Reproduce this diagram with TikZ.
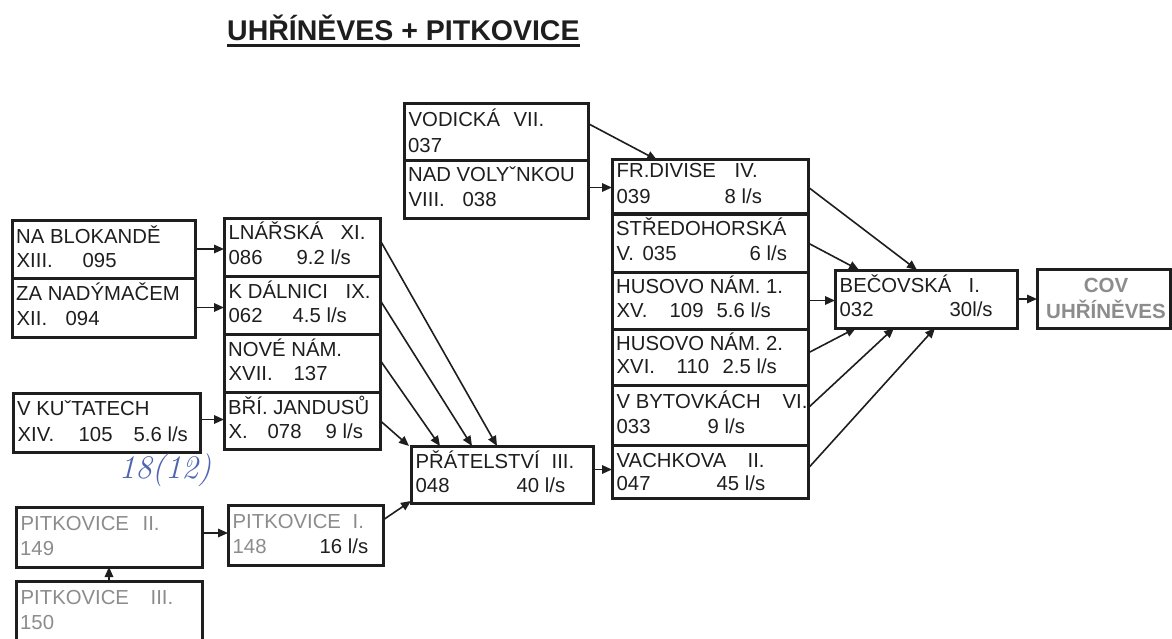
\documentclass[tikz,border=0pt]{standalone}
\usepackage{fontspec}
\setmainfont{Liberation Sans}
\usetikzlibrary{arrows.meta}
\definecolor{ink}{HTML}{1E1E1E}
\definecolor{pale}{HTML}{8C8C8C}
\definecolor{pen}{HTML}{5064B0}
\newcommand{\tx}[2]{\makebox[0pt][l]{\hspace*{#1pt}#2}}
\newcommand{\bx}[9]{%
  \node[boxst, minimum width=#4pt-#2pt, minimum height=#5pt-#3pt, anchor=north west] (#1) at (#2,#3) {};
  \node[txt] (#1-a) at (#2+4,#3+#6) {#8};
  \node[txt] (#1-b) at (#2+4,#3+#7) {#9};
}
\tikzset{
  boxst/.style={draw=ink, line width=3pt, inner sep=0pt, outer sep=0pt},
  txt/.style={anchor=base west, inner sep=0pt, font=\fontsize{20.3}{24}\selectfont, text=ink},
  arr/.style={draw=ink, line width=1.6pt, -{Triangle[length=10pt,width=8.5pt]}}
}
\begin{document}
\begin{tikzpicture}[x=1pt, y=-1pt]
\useasboundingbox (0,0) rectangle (1172,639);
\fill[white] (0,0) rectangle (1172,639);

% title
\node[anchor=base west, inner sep=0pt, font=\fontsize{28.5}{30}\selectfont\bfseries, text=ink] (title) at (227,41) {UHŘÍNĚVES + PITKOVICE};
\draw[line width=2.5pt, ink] ([yshift=-4.5pt]title.base west) -- ([yshift=-4.5pt]title.base east);

% left column
\bx{blok}{12}{220}{195}{278}{23}{47}{NA BLOKANDĚ}{\tx{0}{XIII.}\tx{66}{095}}
\bx{nady}{12}{278}{195}{337}{22}{47}{ZA NADÝMAČEM}{\tx{0}{XII.}\tx{49}{094}}
\bx{kut}{13}{393}{200}{452}{22}{48}{V KUˇTATECH}{\tx{0}{XIV.}\tx{61}{105}\tx{116}{5.6 l/s}}
\bx{pit2}{16}{507}{202}{567}{23}{48}{\color{pale}\tx{0}{PITKOVICE}\tx{122}{II.}}{\color{pale}149}
\bx{pit3}{16}{581}{202}{640}{23}{48}{\color{pale}\tx{0}{PITKOVICE}\tx{130}{III.}}{\color{pale}150}

% second column
\bx{lna}{224}{218}{380}{276}{22}{46}{\tx{0}{LNÁŘSKÁ}\tx{112}{XI.}}{\tx{0}{086}\tx{68}{9.2 l/s}}
\bx{dal}{224}{276}{380}{334}{22}{46}{\tx{0}{K DÁLNICI}\tx{117}{IX.}}{\tx{0}{062}\tx{64}{4.5 l/s}}
\bx{nove}{224}{334}{380}{392}{22}{46}{NOVÉ NÁM.}{\tx{0}{XVII.}\tx{65}{137}}
\bx{jand}{224}{392}{380}{449}{22}{46}{BŘÍ. JANDUSŮ}{\tx{0}{X.}\tx{39}{078}\tx{97}{9 l/s}}
\bx{pit1}{228}{505}{383}{565}{23}{48}{\color{pale}\tx{0}{PITKOVICE}\tx{120}{I.}}{\tx{0}{\color{pale}148}\tx{87}{16 l/s}}

% third column
\bx{vod}{404}{104}{588}{161}{23}{49}{\tx{0}{VODICKÁ}\tx{105}{VII.}}{037}
\bx{voly}{404}{161}{588}{218}{21}{46}{NAD VOLYˇNKOU}{\tx{0}{VIII.}\tx{54}{038}}
\bx{prat}{411}{446}{593}{503}{22}{46}{\tx{0}{PŘÁTELSTVÍ}\tx{136}{III.}}{\tx{0}{048}\tx{101}{40 l/s}}

% right column
\bx{div}{612}{160}{808}{214}{18}{44}{\tx{0}{FR.DIVISE}\tx{118}{IV.}}{\tx{0}{039}\tx{108}{8 l/s}}
\bx{stre}{612}{214}{808}{272}{21}{46}{STŘEDOHORSKÁ}{\tx{0}{V.}\tx{26}{035}\tx{133}{6 l/s}}
\bx{hus1}{612}{272}{808}{329}{21}{45}{HUSOVO NÁM. 1.}{\tx{0}{XV.}\tx{53}{109}\tx{100}{5.6 l/s}}
\bx{hus2}{612}{329}{808}{385}{21}{44}{HUSOVO NÁM. 2.}{\tx{0}{XVI.}\tx{60}{110}\tx{106}{2.5 l/s}}
\bx{byt}{612}{385}{808}{445}{23}{48}{\tx{0}{V BYTOVKÁCH}\tx{166}{VI.}}{\tx{0}{033}\tx{91}{9 l/s}}
\bx{vach}{612}{445}{808}{498}{22}{45}{\tx{0}{VACHKOVA}\tx{131}{II.}}{\tx{0}{047}\tx{100}{45 l/s}}

% outlet
\bx{bec}{835}{270}{1017}{328}{22}{46}{\tx{0}{BEČOVSKÁ}\tx{129}{I.}}{\tx{0}{032}\tx{110}{30l/s}}
\node[boxst, minimum width=133pt, minimum height=59pt, anchor=north west] (cov) at (1037,269) {};
\node[anchor=base, inner sep=0pt, font=\fontsize{20.5}{24}\selectfont\bfseries, text=pale] (cov-a) at (1106,292) {COV};
\node[anchor=base, inner sep=0pt, font=\fontsize{20.5}{24}\selectfont\bfseries, text=pale] (cov-b) at (1106,318) {UHŘÍNĚVES};

% handwritten note
\node[inner sep=0pt, font=\fontfamily{lmr}\fontsize{33}{35}\selectfont\itshape, text=pen] (note) at (165,470) {18(12)};

% connectors
\draw[arr] (blok.east) -- (blok.east -| lna.west);
\draw[arr] (nady.east) -- (nady.east -| dal.west);
\draw[arr] ([yshift=3pt]kut.east) -- ([yshift=3pt]kut.east -| jand.west);
\draw[arr] ([yshift=4pt]pit2.east) -- ([yshift=4pt]pit2.east -| pit1.west);
\draw[arr] (pit3.north) -- (pit3.north |- pit2.south);
\draw[arr] ([yshift=15pt]pit1.east) -- ([yshift=2pt]prat.south west);

\draw[arr] ([yshift=7pt]lna.east) -- ([xshift=86pt]prat.north west);
\draw[arr] ([yshift=5pt]dal.east) -- ([xshift=61pt]prat.north west);
\draw[arr] ([yshift=3pt]nove.east) -- ([xshift=29pt]prat.north west);
\draw[arr] (jand.east) -- ([xshift=-2pt]prat.north west);
\draw[arr] ([yshift=5pt]prat.east) -- ([yshift=5pt]prat.east -| vach.west);

\draw[arr] ([yshift=9pt]vod.east) -- ([xshift=45pt]div.north west);
\draw[arr] ([yshift=2pt]voly.east) -- ([yshift=2pt]voly.east -| div.west);

\draw[arr] (div.east) -- ([xshift=82pt]bec.north west);
\draw[arr] (stre.east) -- ([xshift=24pt]bec.north west);
\draw[arr] (hus1.east) -- (hus1.east -| bec.west);
\draw[arr] ([yshift=4pt]hus2.east) -- ([xshift=21pt]bec.south west);
\draw[arr] ([yshift=7pt]byt.east) -- ([xshift=59pt]bec.south west);
\draw[arr] ([yshift=3pt]vach.east) -- ([xshift=100pt]bec.south west);
\draw[arr] (bec.east) -- (bec.east -| cov.west);
\end{tikzpicture}
\end{document}
